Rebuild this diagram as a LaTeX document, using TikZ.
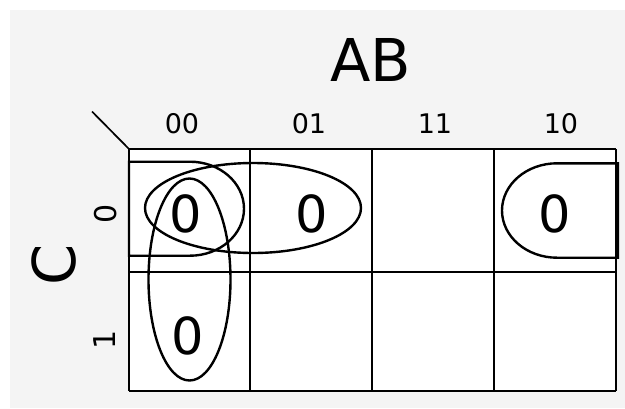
\documentclass[tikz,border=0pt]{standalone}
\usepackage{fontspec}
\setmainfont{DejaVu Sans}

\definecolor{ink}{HTML}{000000}
\definecolor{paper}{HTML}{F4F4F4}

\begin{document}
\begin{tikzpicture}[
  x=1pt,
  y=-1pt,
  cellline/.style={draw=ink,line width=1.7pt},
  loopline/.style={draw=ink,line width=2.4pt},
  digit/.style={inner sep=0pt,text=ink,font=\fontsize{51}{51}\selectfont},
  colhead/.style={inner sep=0pt,text=ink,font=\fontsize{27}{27}\selectfont},
  rowhead/.style={inner sep=0pt,text=ink,rotate=90,font=\fontsize{30}{30}\selectfont},
  varname/.style={inner sep=0pt,text=ink,font=\fontsize{59}{59}\selectfont}
]
\useasboundingbox (0,0) rectangle (625,408);
\fill[paper] (10,10) rectangle (625,408);
\fill[white] (129,149) rectangle (616,391);

\foreach \gx in {129,250,372,494,616}
  \draw[cellline] (\gx,149) -- (\gx,391);
\foreach \gy in {149,272,391}
  \draw[cellline] (129,\gy) -- (616,\gy);

\coordinate (corner) at (129,149);
\coordinate (slash) at (92,111.5);
\draw[cellline] (slash) -- (corner);

\node[varname] (ab) at (370.5,60) {AB};
\node[varname,rotate=90] (c) at (54,265) {C};

\node[colhead] (h00) at (182,124) {00};
\node[colhead] (h01) at (309,124) {01};
\node[colhead] (h11) at (435,124) {11};
\node[colhead] (h10) at (561,124) {10};
\node[rowhead] (r0) at (105.5,214) {0};
\node[rowhead] (r1) at (105,340) {1};

\node[digit] (m0) at (186,214) {0};
\node[digit] (m2) at (312,214) {0};
\node[digit] (m4) at (555,214) {0};
\node[digit] (m1) at (188,336) {0};

\draw[loopline] (129,161.7) -- (190,161.7)
  arc[start angle=-90,end angle=90,x radius=54,y radius=47] -- (129,255.7) -- cycle;
\draw[loopline] (618,163.3) -- (557,163.3)
  arc[start angle=-90,end angle=-270,x radius=55,y radius=47.2] -- (618,257.7) -- cycle;
\draw[loopline] (253,208) ellipse[x radius=108,y radius=45];
\draw[loopline] (189.5,279.5) ellipse[x radius=41,y radius=101];
\end{tikzpicture}
\end{document}
